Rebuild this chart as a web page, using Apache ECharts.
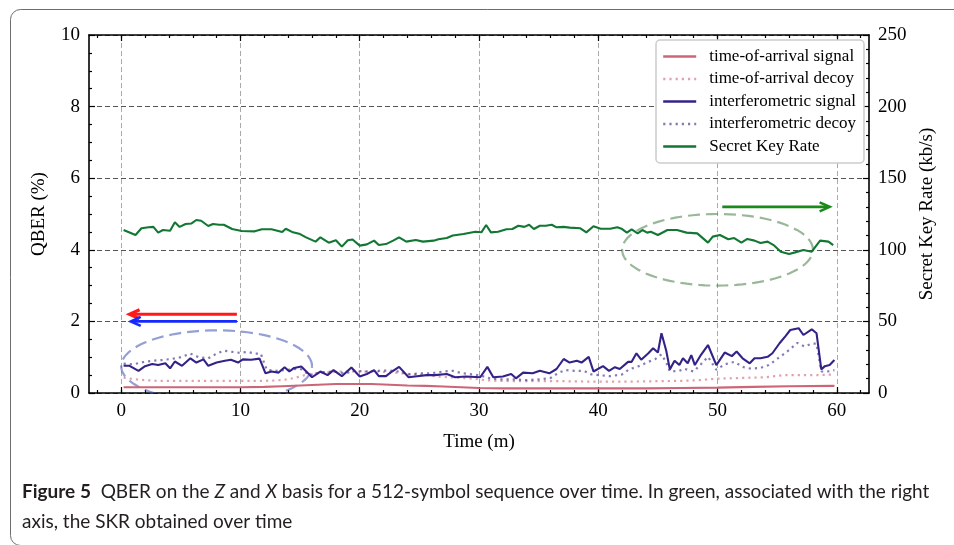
<!DOCTYPE html>
<html>
<head>
<meta charset="utf-8">
<script src="https://cdn.jsdelivr.net/npm/echarts@6/dist/echarts.min.js"></script>
<style>
  html, body { margin: 0; padding: 0; background: #ffffff; }
  #chart { width: 954px; height: 545px; }
</style>
</head>
<body>
<div id="chart"></div>
<script>
// ---- Data: time in minutes, QBER in %, secret key rate in kb/s ----
const majorTimeTicks = [0, 10, 20, 30, 40, 50, 60];
const minorTimeTicks = [-2, 0, 2, 4, 6, 8, 10, 12, 14, 16, 18, 20, 22, 24, 26, 28, 30,
  32, 34, 36, 38, 40, 42, 44, 46, 48, 50, 52, 54, 56, 58, 60, 62];

const toaSignal = [[0.2,0.16],[2,0.16],[4,0.16],[6,0.16],[8,0.16],[10,0.16],[12,0.17],[13.5,0.19],
  [15,0.21],[16.5,0.23],[18,0.25],[19.5,0.25],[21,0.25],[22.5,0.23],[24,0.21],[25.5,0.2],[27,0.18],
  [28.5,0.16],[30,0.14],[32,0.13],[35,0.13],[38,0.13],[41,0.13],[44,0.13],[47,0.14],[50,0.15],
  [53,0.17],[56,0.19],[59.8,0.2]];

const toaDecoy = [[0.2,0.43],[1,0.39],[2,0.36],[3,0.34],[4,0.34],[5,0.34],[6,0.34],[7,0.34],[8,0.34],
  [9,0.34],[10,0.34],[11,0.34],[12,0.34],[13,0.35],[14,0.38],[15,0.46],[15.6,0.52],[16.5,0.56],
  [17.5,0.58],[18.5,0.6],[19.5,0.6],[20.5,0.6],[21.5,0.6],[22.5,0.58],[23.5,0.55],[24.5,0.52],
  [25.5,0.5],[26.5,0.46],[27.5,0.44],[28.5,0.42],[29.5,0.4],[30.5,0.36],[31.5,0.34],[33,0.33],
  [35,0.33],[37,0.33],[39,0.32],[41,0.32],[43,0.32],[45,0.33],[47,0.34],[48.5,0.36],[50,0.4],
  [52,0.42],[54,0.44],[55.5,0.5],[57,0.5],[58.5,0.5],[59.8,0.52]];

const interfSignal = [[0.2,0.76],[0.7,0.76],[1.45,0.62],[2,0.75],[2.6,0.81],[3.1,0.78],[3.7,0.83],
  [4.1,0.69],[4.5,0.88],[5.1,0.76],[5.8,0.97],[6.3,0.85],[6.9,0.94],[7.3,0.76],[8,0.85],[8.7,0.9],
  [9.2,0.93],[9.8,0.85],[10.2,0.94],[10.9,0.93],[11.6,0.96],[12.1,0.55],[12.6,0.6],[13.2,0.57],
  [13.7,0.72],[14.1,0.6],[14.5,0.7],[15.1,0.74],[16,0.44],[16.7,0.6],[17.3,0.5],[17.8,0.64],
  [18.5,0.47],[19.3,0.71],[20,0.46],[20.6,0.53],[21.2,0.64],[21.6,0.47],[22.2,0.47],[22.7,0.6],
  [23.3,0.73],[24.1,0.44],[24.8,0.47],[25.6,0.5],[26.3,0.5],[27.3,0.53],[28,0.44],[28.9,0.46],
  [30.1,0.44],[30.7,0.73],[31.2,0.44],[32,0.46],[32.7,0.53],[33.1,0.41],[33.7,0.57],[34.5,0.55],
  [35.1,0.62],[35.9,0.55],[36.5,0.67],[37.1,0.95],[37.6,0.85],[38.2,0.9],[38.6,0.85],[39.2,1.01],
  [39.6,0.6],[40.4,0.75],[40.9,0.62],[41.4,0.72],[41.8,0.67],[42.5,0.87],[42.8,0.87],[43.2,1.11],
  [43.6,0.93],[44.2,1.11],[44.6,1.25],[45,1.13],[45.3,1.67],[45.7,1.18],[46,0.66],[46.4,0.9],
  [46.8,0.78],[47.1,0.97],[47.5,0.83],[47.8,1.06],[48.1,0.78],[48.6,1.06],[49.2,1.34],[49.9,0.78],
  [50.6,1.13],[51.2,1.03],[51.6,1.16],[52.1,0.97],[52.7,0.83],[53.1,0.97],[53.6,0.97],[54.2,1.01],
  [54.6,1.11],[55.2,1.39],[55.7,1.59],[56.1,1.76],[56.8,1.81],[57.2,1.62],[57.9,1.78],[58.3,1.67],
  [58.7,0.66],[59,0.75],[59.4,0.78],[59.8,0.92]];

const interfDecoy = [[0.2,0.82],[1,0.8],[1.8,0.86],[2.6,0.9],[3.4,0.92],[4.2,0.95],[5,1.0],[5.8,1.1],
  [6.5,1.0],[7.3,0.97],[8,1.1],[8.6,1.18],[9.3,1.15],[10,1.12],[10.6,1.15],[11.2,1.1],[11.7,1.1],
  [12.2,0.65],[13,0.62],[14,0.65],[15,0.68],[15.8,0.5],[16.8,0.58],[17.8,0.6],[18.8,0.55],[19.6,0.62],
  [20.5,0.6],[21.5,0.62],[22.5,0.63],[23.3,0.6],[24.2,0.52],[25,0.55],[26,0.55],[27,0.6],[27.8,0.62],
  [28.6,0.55],[29.5,0.52],[30.2,0.48],[31,0.4],[32,0.38],[33,0.38],[34,0.36],[35,0.38],[36,0.42],
  [36.6,0.55],[37.2,0.64],[38,0.62],[38.8,0.62],[39.4,0.52],[40,0.5],[41,0.47],[42,0.52],[42.6,0.66],
  [43.4,0.75],[44.2,0.87],[44.8,0.95],[45.3,1.08],[45.7,0.85],[46,0.6],[46.8,0.62],[47.2,0.68],
  [48,0.6],[48.6,0.8],[49.2,1.01],[49.9,0.65],[50.6,0.8],[51.4,0.87],[52.2,0.72],[52.8,0.68],
  [53.6,0.7],[54.3,0.78],[54.8,0.9],[55.4,1.05],[56,1.2],[56.7,1.4],[57.3,1.3],[57.9,1.38],
  [58.3,1.38],[58.7,0.6],[59.2,0.6],[59.8,0.64]];

const secretKeyRate = [[0.2,113.8],[1.2,110.3],[1.7,115],[2.3,115.7],[2.7,116],[3.1,112],[3.5,113.8],
  [4.1,113.3],[4.5,119.2],[4.9,116],[5.4,118],[5.9,118.4],[6.3,120.8],[6.7,120.3],[7.3,116.6],
  [7.7,118],[8.2,117.5],[8.6,117.5],[9.3,114.5],[10.1,113.1],[11.2,112.9],[11.8,114.3],[12.6,114.3],
  [13.5,112.4],[13.8,114.7],[14.4,112.2],[15,111],[15.5,108.7],[16.3,105.7],[16.7,108.7],[17.4,105],
  [18,106.7],[18.5,102.2],[19,106.7],[19.4,107.2],[20,102.9],[20.6,103.8],[21.2,106.4],[21.6,103.3],
  [22.2,104],[22.8,106.4],[23.3,108.7],[23.9,105.7],[24.7,106.9],[25.3,105.7],[26.2,106.4],
  [26.6,107.4],[27.3,108.2],[27.8,110],[28.7,111],[29.7,112.6],[30.2,112.2],[30.6,117.3],[31,112.2],
  [31.6,112.6],[32.3,114.3],[32.8,114.5],[33.3,116.8],[33.8,116],[34.2,117.5],[34.6,114.5],
  [35.1,116.8],[35.6,116.8],[36.1,117.5],[36.5,115.7],[37.1,116],[37.6,115.5],[38.5,115],[39,112.2],
  [39.6,116.4],[40.2,114.7],[41,114.7],[41.6,115.7],[42,114.5],[42.4,112],[42.8,114.3],[43.3,111.5],
  [43.7,113.8],[44.1,112],[44.4,112.6],[45,110.3],[45.8,113.8],[46.6,113.8],[47.4,112],[48.3,111.5],
  [49.2,105],[49.6,109.2],[50.2,110.3],[50.9,107.4],[51.4,108.2],[52,105],[52.5,107.6],[53.1,106.4],
  [53.6,104.7],[54.2,105.7],[54.7,103.3],[55.3,98.7],[56,97.1],[56.5,98.2],[57.2,99.8],[57.9,98.7],
  [58.6,106.4],[59.3,105.7],[59.7,103.3]];

// Annotation geometry in axis units: arrows [x0, y0, x1(tip), y1(tip)], ellipses [cx, cy, width, height]
const qberArrows = [[9.7, 2.2, 0.7, 2.2], [9.7, 2.0, 0.8, 2.0]];
const skrArrows = [[50.4, 130, 59.4, 130]];
const qberEllipses = [[8, 0.75, 16, 2]];
const skrEllipses = [[50, 100, 16, 50]];

// ---- Styling ----
const SERIF = '"Liberation Serif", "DejaVu Serif", serif';
const SANS = 'Lato, "Liberation Sans", sans-serif';
const C_TOA = '#CC6677';
const C_TOA_DECOY = 'rgba(204,102,119,0.6)';
const C_INT = '#332288';
const C_INT_DECOY = 'rgba(51,34,136,0.6)';
const C_SKR = '#117733';
const qberArrowColors = ['#ff1a1a', '#1428ff'];
const qberArrowWidths = [3.2, 2.6];
const skrArrowColors = ['#1a8a1a'];
const qberEllipseColors = ['rgba(60,80,175,0.55)'];
const skrEllipseColors = ['rgba(70,125,70,0.55)'];

function lineSeries(name, data, color, dotted, yIndex) {
  return {
    name: name, type: 'line', data: data, xAxisIndex: 0, yAxisIndex: yIndex,
    showSymbol: false, symbol: 'none', smooth: false, animation: false,
    lineStyle: { color: color, width: dotted ? 2.2 : 2.1, type: dotted ? [2.2, 4] : 'solid', cap: 'butt' },
    itemStyle: { color: color }
  };
}

function arrowRenderer(colors, widths) {
  return function (params, api) {
    const p0 = api.coord([api.value(0), api.value(1)]);
    const p1 = api.coord([api.value(2), api.value(3)]);
    const dx = p1[0] - p0[0], dy = p1[1] - p0[1];
    const len = Math.sqrt(dx * dx + dy * dy) || 1;
    const ux = dx / len, uy = dy / len;
    const nx = -uy, ny = ux;
    const L = 10, W = 4.5;
    const color = colors[params.dataIndex];
    const lw = widths ? widths[params.dataIndex] : 2.6;
    return {
      type: 'group',
      children: [
        { type: 'line', shape: { x1: p0[0], y1: p0[1], x2: p1[0] - ux * 1, y2: p1[1] - uy * 1 },
          style: { stroke: color, lineWidth: lw } },
        { type: 'polyline',
          shape: { points: [[p1[0] - ux * L + nx * W, p1[1] - uy * L + ny * W], [p1[0], p1[1]],
                            [p1[0] - ux * L - nx * W, p1[1] - uy * L - ny * W]] },
          style: { stroke: color, lineWidth: lw, fill: null, lineJoin: 'miter' } }
      ]
    };
  };
}

function ellipseRenderer(colors) {
  return function (params, api) {
    const cx = api.value(0), cy = api.value(1), w = api.value(2), h = api.value(3);
    const pts = [];
    for (let k = 0; k <= 96; k++) {
      const a = (k / 96) * Math.PI * 2;
      pts.push(api.coord([cx + (w / 2) * Math.cos(a), cy + (h / 2) * Math.sin(a)]));
    }
    return {
      type: 'polyline', shape: { points: pts },
      style: { stroke: colors[params.dataIndex], lineWidth: 2.2, lineDash: [12, 6], fill: null }
    };
  };
}

const tickLine = { color: '#000', width: 1.2 };
const baseX = { type: 'value', min: -2.7, max: 62.7, gridIndex: 0 };

const option = {
  backgroundColor: '#ffffff',
  animation: false,
  grid: { left: 89, right: 85, top: 35, bottom: 152, containLabel: false },
  legend: {
    orient: 'vertical', left: 656, top: 40,
    backgroundColor: '#ffffff', borderColor: '#cccccc', borderWidth: 1.5, borderRadius: 4,
    padding: [8, 8, 8, 6], itemWidth: 33, itemHeight: 10, itemGap: 5.5,
    itemStyle: { opacity: 0 },
    lineStyle: { width: 2.4 },
    textStyle: { fontFamily: SERIF, fontSize: 17, color: '#000', lineHeight: 17, padding: [0, 0, 0, 8] },
    data: ['time-of-arrival signal', 'time-of-arrival decoy', 'interferometric signal',
           'interferometric decoy', 'Secret Key Rate']
  },
  xAxis: [
    Object.assign({}, baseX, {
      position: 'bottom', name: 'Time (m)', nameLocation: 'middle', nameGap: 40,
      nameTextStyle: { fontFamily: SERIF, fontSize: 19, color: '#000' },
      axisLine: { show: true, onZero: false, lineStyle: { color: '#000', width: 1.6 } },
      axisTick: { show: true, inside: true, length: 6, customValues: majorTimeTicks, lineStyle: tickLine },
      axisLabel: { show: true, customValues: majorTimeTicks, margin: 9,
        fontFamily: SERIF, fontSize: 19, color: '#000' },
      splitLine: { show: true, lineStyle: { color: '#aaaaaa', width: 1, type: [5, 3] } }
    }),
    Object.assign({}, baseX, {
      position: 'bottom',
      axisLine: { show: false, onZero: false },
      axisTick: { show: true, inside: true, length: 3, customValues: minorTimeTicks, lineStyle: tickLine },
      axisLabel: { show: false }, splitLine: { show: false }
    }),
    Object.assign({}, baseX, {
      position: 'top',
      axisLine: { show: true, onZero: false, lineStyle: { color: '#000', width: 1.6 } },
      axisTick: { show: true, inside: true, length: 6, customValues: majorTimeTicks, lineStyle: tickLine },
      axisLabel: { show: false }, splitLine: { show: false }
    }),
    Object.assign({}, baseX, {
      position: 'top',
      axisLine: { show: false, onZero: false },
      axisTick: { show: true, inside: true, length: 3, customValues: minorTimeTicks, lineStyle: tickLine },
      axisLabel: { show: false }, splitLine: { show: false }
    })
  ],
  yAxis: [
    {
      type: 'value', position: 'left', min: 0, max: 10, interval: 2,
      name: 'QBER (%)', nameLocation: 'middle', nameGap: 40, nameRotate: 90,
      nameTextStyle: { fontFamily: SERIF, fontSize: 19, color: '#000' },
      axisLine: { show: true, onZero: false, lineStyle: { color: '#000', width: 1.6 } },
      axisTick: { show: true, inside: true, length: 6, lineStyle: tickLine },
      minorTick: { show: true, splitNumber: 4, length: 3, lineStyle: tickLine },
      axisLabel: { margin: 9, fontFamily: SERIF, fontSize: 19, color: '#000' },
      splitLine: { show: true, lineStyle: { color: '#555555', width: 1.2, type: [5, 3] } }
    },
    {
      type: 'value', position: 'right', min: 0, max: 250, interval: 50,
      name: 'Secret Key Rate (kb/s)', nameLocation: 'middle', nameGap: 49, nameRotate: 90,
      nameTextStyle: { fontFamily: SERIF, fontSize: 19, color: '#000' },
      axisLine: { show: true, onZero: false, lineStyle: { color: '#000', width: 1.6 } },
      axisTick: { show: true, inside: true, length: 6, lineStyle: tickLine },
      minorTick: { show: true, splitNumber: 5, length: 3, lineStyle: tickLine },
      axisLabel: { margin: 9, fontFamily: SERIF, fontSize: 19, color: '#000' },
      splitLine: { show: false }
    }
  ],
  series: [
    lineSeries('time-of-arrival signal', toaSignal, C_TOA, false, 0),
    lineSeries('time-of-arrival decoy', toaDecoy, C_TOA_DECOY, true, 0),
    lineSeries('interferometric signal', interfSignal, C_INT, false, 0),
    lineSeries('interferometric decoy', interfDecoy, C_INT_DECOY, true, 0),
    lineSeries('Secret Key Rate', secretKeyRate, C_SKR, false, 1),
    { type: 'custom', name: 'qber-ellipse', xAxisIndex: 0, yAxisIndex: 0, clip: true, silent: true,
      data: qberEllipses, renderItem: ellipseRenderer(qberEllipseColors), z: 3 },
    { type: 'custom', name: 'skr-ellipse', xAxisIndex: 0, yAxisIndex: 1, clip: true, silent: true,
      data: skrEllipses, renderItem: ellipseRenderer(skrEllipseColors), z: 3 },
    { type: 'custom', name: 'qber-arrows', xAxisIndex: 0, yAxisIndex: 0, silent: true,
      data: qberArrows, renderItem: arrowRenderer(qberArrowColors, qberArrowWidths), z: 4 },
    { type: 'custom', name: 'skr-arrows', xAxisIndex: 0, yAxisIndex: 1, silent: true,
      data: skrArrows, renderItem: arrowRenderer(skrArrowColors, null), z: 4 }
  ],
  graphic: [
    { type: 'rect', left: 8, top: 7, silent: true, z: -10,
      shape: { x: 0, y: 0, width: 980, height: 536, r: 10 },
      style: { fill: null, stroke: '#6d6d6d', lineWidth: 1 } },
    { type: 'text', left: 22, top: 477, silent: true,
      style: {
        text: '{b|Figure 5}  QBER on the {i|Z} and {i|X} basis for a 512-symbol sequence over time. In green, associated with the right\naxis, the SKR obtained over time',
        fontFamily: SANS, fontSize: 19, lineHeight: 30, fill: '#231f20',
        rich: {
          b: { fontFamily: SANS, fontSize: 19, fontWeight: 'bold', fill: '#231f20', lineHeight: 30 },
          i: { fontFamily: SANS, fontSize: 19, fontStyle: 'italic', fill: '#231f20', lineHeight: 30 }
        }
      } }
  ]
};

const chart = echarts.init(document.getElementById('chart'), null, { renderer: 'canvas' });
chart.setOption(option);
</script>
</body>
</html>
